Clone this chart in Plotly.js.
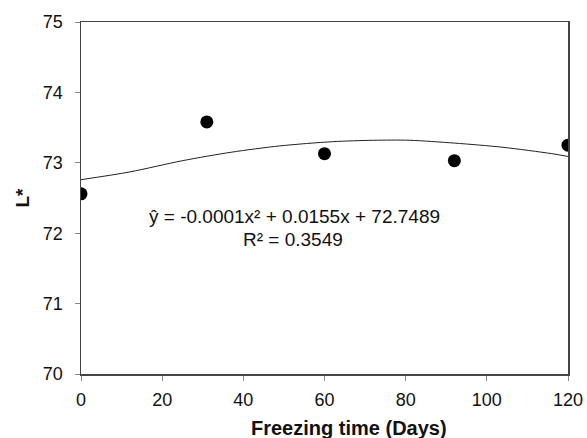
<!DOCTYPE html>
<html>
<head>
<meta charset="utf-8">
<script src="https://cdn.plot.ly/plotly-3.0.1.min.js"></script>
<style>html,body{margin:0;padding:0;background:#fff;}#chart{width:587px;height:438px;}</style>
</head>
<body>
<div id="chart"></div>
<script>
// Observed data
const days = [0, 31, 60, 92, 120];
const lValues = [72.56, 73.58, 73.13, 73.03, 73.25];
// Trendline
const trendX = [0, 12, 25, 37, 49, 62, 72, 81, 92, 104, 116, 120];
const trendY = [72.76, 72.87, 73.03, 73.15, 73.24, 73.30, 73.32, 73.32, 73.28, 73.22, 73.13, 73.09];
const xTicks = [0, 20, 40, 60, 80, 100, 120];
const yTicks = [70, 71, 72, 73, 74, 75];
const eqText = "ŷ = -0.0001x² + 0.0155x + 72.7489";
const r2Text = "R² = 0.3549";
const xTitle = "Freezing time (Days)";
const yTitle = "L*";

const font = "Arial, 'Liberation Sans', sans-serif";
const traces = [
  {x: trendX, y: trendY, mode: 'lines', line: {color: '#222', width: 1, shape: 'spline', smoothing: 0.8}, hoverinfo: 'skip', showlegend: false},
  {x: days, y: lValues, mode: 'markers', marker: {color: '#000', size: 13}, showlegend: false}
];
const layout = {
  width: 587, height: 438,
  margin: {l: 81, r: 19, t: 22, b: 64},
  paper_bgcolor: '#fff', plot_bgcolor: '#fff',
  font: {family: font, size: 18, color: '#111'},
  showlegend: false,
  xaxis: {
    range: [0, 120], tickvals: xTicks, ticks: 'outside', ticklen: 5, tickcolor: '#888', tickwidth: 1,
    showline: true, linecolor: '#444', linewidth: 1.5, mirror: true, showgrid: false, zeroline: false,
    ticklabelstandoff: 4
  },
  yaxis: {
    range: [70, 75], tickvals: yTicks, ticks: 'outside', ticklen: 5, tickcolor: '#888', tickwidth: 1,
    showline: true, linecolor: '#444', linewidth: 1.5, mirror: true, showgrid: false, zeroline: false,
    ticklabelstandoff: 8,
    title: {text: '<b>' + yTitle + '</b>', font: {size: 19, family: font, color: '#111'}, standoff: 8}
  },
  annotations: [
    {xref: 'paper', yref: 'paper', x: 0.551, y: -0.153, text: '<b>' + xTitle + '</b>', showarrow: false, font: {size: 20, family: font, color: '#111'}, xanchor: 'center', yanchor: 'middle'},
    {xref: 'paper', yref: 'paper', x: 0.439, y: 0.4465, text: eqText, showarrow: false, font: {size: 19, family: font, color: '#111'}, xanchor: 'center', yanchor: 'middle'},
    {xref: 'paper', yref: 'paper', x: 0.435, y: 0.383, text: r2Text, showarrow: false, font: {size: 19, family: font, color: '#111'}, xanchor: 'center', yanchor: 'middle'}
  ]
};
Plotly.newPlot('chart', traces, layout, {staticPlot: true, displayModeBar: false});
</script>
</body>
</html>
